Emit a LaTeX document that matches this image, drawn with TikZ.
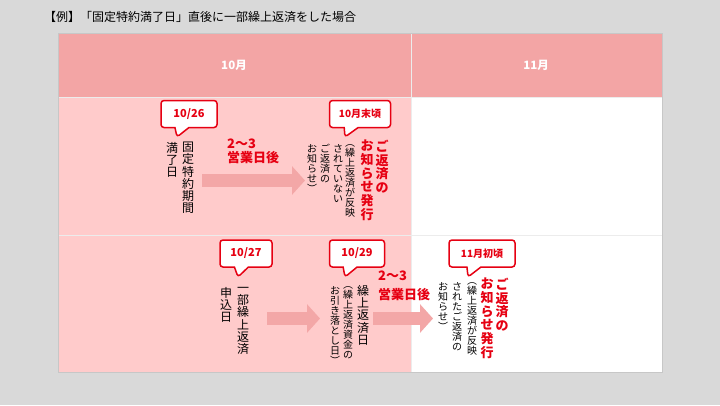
\documentclass[tikz,border=0pt]{standalone}
\usepackage{fontspec}
\setmainfont{Noto Sans CJK JP}
\usepackage{xcolor}
\usetikzlibrary{arrows.meta,shapes.callouts}
\definecolor{bg}{HTML}{D9D9D9}
\definecolor{hdr}{HTML}{F3A5A5}
\definecolor{pk}{HTML}{FFCBCB}
\definecolor{arw}{HTML}{F3A7A7}
\definecolor{rd}{HTML}{E60012}
\makeatletter
\newcommand{\tatecol}[2][1.02]{\vtop{\baselineskip=#1em\lineskiplimit=-\maxdimen\lineskip=0pt
  \@tfor\tc@ch:=#2\do{\hbox to1em{\hss\tc@ch\hss}}}}
\makeatother
\tikzset{
  cell/.style={draw=white!85!gray,line width=0.8pt},
  hd/.style={text=white,font=\bfseries\fontsize{11.5}{11.5}\selectfont},
  tt/.style={inner sep=0pt,anchor=north,font=\fontsize{12}{12}\selectfont},
  ts/.style={inner sep=0pt,anchor=north,font=\fontsize{10}{10}\selectfont},
  tr/.style={inner sep=0pt,anchor=north,text=rd,font=\bfseries\fontsize{13}{13}\selectfont},
  cb/.style={rectangle callout,draw=rd,fill=white,line width=1.5pt,rounded corners=3pt,text=rd,
    font=\bfseries\fontsize{11}{11}\selectfont,minimum height=27pt,inner sep=0pt,callout pointer width=14pt},
  lbl/.style={text=rd,font=\bfseries\fontsize{13}{14}\selectfont,align=left,anchor=north west,inner sep=0pt},
  ba/.style={draw=arw,line width=13pt,-{Triangle[length=13pt,width=28pt]}}
}

\begin{document}
\begin{tikzpicture}[x=1pt,y=-1pt]
\fill[bg] (0,0) rectangle (720,405); \useasboundingbox (0,0) rectangle (720,405);
\node[anchor=west,inner sep=0pt,font=\fontsize{12}{12}\selectfont] (ttl) at (44,17) {【例】「固定特約満了日」直後に一部繰上返済をした場合};
\draw[cell,fill=hdr] (58,33) rectangle (411,97); \draw[cell,fill=hdr] (411,33) rectangle (662,97);
\draw[cell,fill=pk] (58,97) rectangle (411,235); \draw[cell,fill=white] (411,97) rectangle (662,235);
\draw[cell,fill=pk] (58,235) rectangle (411,372); \draw[cell,fill=white] (411,235) rectangle (662,372);
\draw[black!22] (58,33) rectangle (662,372);
\node[hd] (m10) at (234,65) {10月};
\node[hd] (m11) at (536,65) {11月};

\node[tt] (kotei) at (188,142) {\tatecol{固定特約期間}};
\node[tt] (manryo) at (172,142) {\tatecol{満了日}};
\node[cb,minimum width=56pt,callout absolute pointer={(177,137)}] (d1026) at (189,114) {10/26};
\node[lbl] (gyo1) at (227,139) {2〜3\\営業日後};
\coordinate (a1s) at (202,180.5); \coordinate (a1e) at (305,180.5);
\draw[ba] (a1s) -- (a1e);
\node[cb,minimum width=61pt,font=\bfseries\fontsize{10}{10}\selectfont,callout absolute pointer={(345,137)}] (d10end) at (360,114) {10月末頃};
\node[tr] (ntc1a) at (382,140) {\tatecol[1.05]{ご返済の}};
\node[tr] (ntc1b) at (367,140) {\tatecol[1.05]{お知らせ発行}};
\node[ts] (sub1a) at (350,144) {\tatecol[1.0]{︵繰上返済が反映}};
\node[ts] (sub1b) at (338,144) {\tatecol[1.0]{されていない}};
\node[ts] (sub1c) at (325,144) {\tatecol[1.0]{ご返済の}};
\node[ts] (sub1d) at (312,144) {\tatecol[1.0]{お知らせ︶}};

\node[tt] (ichibu) at (243,287) {\tatecol{一部繰上返済}};
\node[tt] (moshi) at (226,287) {\tatecol{申込日}};
\node[cb,minimum width=52pt,callout absolute pointer={(238,277)}] (d1027) at (246,253.5) {10/27};
\coordinate (a2s) at (267,318.5); \coordinate (a2e) at (320,318.5);
\draw[ba] (a2s) -- (a2e);
\node[cb,minimum width=55pt,callout absolute pointer={(345,277)}] (d1029) at (357,253.5) {10/29};
\node[tt] (kuri) at (363,285) {\tatecol{繰上返済日}};
\node[ts] (sub2a) at (348,286) {\tatecol[1.0]{︵繰上返済資金の}};
\node[ts] (sub2b) at (335,286) {\tatecol[1.0]{お引き落とし日︶}};
\node[lbl] (gyo2) at (378,271) {2〜3\\[5pt]営業日後};
\coordinate (a3s) at (373,318.5); \coordinate (a3e) at (433,318.5);
\draw[ba] (a3s) -- (a3e);
\node[cb,minimum width=66pt,font=\bfseries\fontsize{10}{10}\selectfont,callout absolute pointer={(468,277)}] (d11beg) at (482,253.5) {11月初頃};
\node[tr] (ntc2a) at (502,278) {\tatecol[1.05]{ご返済の}};
\node[tr] (ntc2b) at (487,278) {\tatecol[1.05]{お知らせ発行}};
\node[ts] (sub2c) at (472,282) {\tatecol[1.0]{︵繰上返済が反映}};
\node[ts] (sub2d) at (457,282) {\tatecol[1.0]{されたご返済の}};
\node[ts] (sub2e) at (443,282) {\tatecol[1.0]{お知らせ︶}};
\end{tikzpicture}
\end{document}
